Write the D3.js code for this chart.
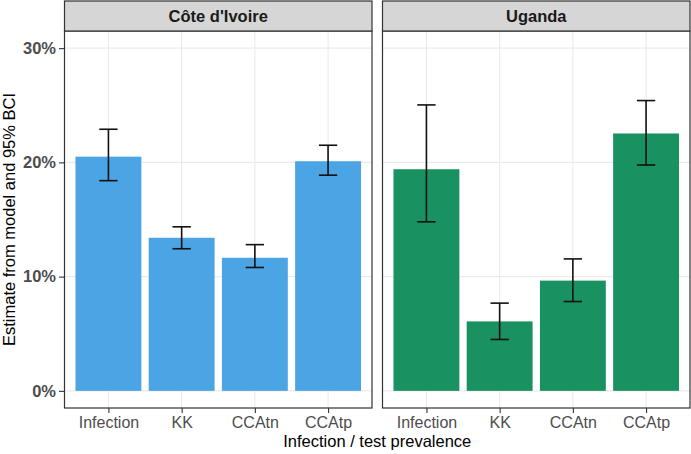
<!DOCTYPE html>
<html><head><meta charset="utf-8">
<script src="https://cdn.jsdelivr.net/npm/d3@7"></script>
<style>body{margin:0;background:#fff;} text{font-family:"Liberation Sans",Arial,sans-serif;}</style>
</head><body>
<svg id="c" width="691" height="454"></svg>
<script>
const categories = ["Infection","KK","CCAtn","CCAtp"];
const panels = ["Côte d'Ivoire","Uganda"];
const estCI = [0.205, 0.134, 0.1165, 0.201];
const lowCI = [0.184, 0.1244, 0.108, 0.1888];
const highCI = [0.229, 0.1436, 0.128, 0.215];
const estUG = [0.194, 0.0608, 0.0965, 0.2253];
const lowUG = [0.148, 0.045, 0.0782, 0.1977];
const highUG = [0.2503, 0.0768, 0.1155, 0.2541];
const yTicks = [0, 0.1, 0.2, 0.3];
const colors = ["#4BA4E3", "#1A9161"];

const data = [
  categories.map((c,i)=>({cat:c, est:estCI[i], lo:lowCI[i], hi:highCI[i]})),
  categories.map((c,i)=>({cat:c, est:estUG[i], lo:lowUG[i], hi:highUG[i]}))
];

const svg = d3.select("#c");
const plotTop = 31, plotBottom = 408, stripTop = 1;
const panelX = [[64.5, 372], [382.5, 690]];
const FONT = "Liberation Sans, Arial, sans-serif";

const y = d3.scaleLinear().domain([-0.015, 0.315]).range([plotBottom, plotTop]);

panels.forEach((p, pi) => {
  const [x0, x1] = panelX[pi];
  const g = svg.append("g");
  const step = (x1 - x0) / 4.2;
  const x = d3.scalePoint().domain(categories).range([x0 + 0.6*step, x1 - 0.6*step]);
  g.selectAll(".hg").data(yTicks).join("line")
    .attr("x1", x0).attr("x2", x1).attr("y1", d=>y(d)).attr("y2", d=>y(d))
    .attr("stroke", "#EBEBEB").attr("stroke-width", 1.1);
  g.selectAll(".vg").data(categories).join("line")
    .attr("x1", d=>x(d)).attr("x2", d=>x(d)).attr("y1", plotTop).attr("y2", plotBottom)
    .attr("stroke", "#EBEBEB").attr("stroke-width", 1.1);
  const bw = 0.9*step;
  g.selectAll(".bar").data(data[pi]).join("rect")
    .attr("x", d=>x(d.cat)-bw/2).attr("width", bw)
    .attr("y", d=>y(d.est)).attr("height", d=>y(0)-y(d.est))
    .attr("fill", colors[pi]);
  const cw = 0.25*step;
  const eb = g.selectAll(".eb").data(data[pi]).join("g").attr("stroke","#111").attr("stroke-width",1.6);
  eb.append("line").attr("x1",d=>x(d.cat)).attr("x2",d=>x(d.cat)).attr("y1",d=>y(d.lo)).attr("y2",d=>y(d.hi));
  eb.append("line").attr("x1",d=>x(d.cat)-cw/2).attr("x2",d=>x(d.cat)+cw/2).attr("y1",d=>y(d.lo)).attr("y2",d=>y(d.lo));
  eb.append("line").attr("x1",d=>x(d.cat)-cw/2).attr("x2",d=>x(d.cat)+cw/2).attr("y1",d=>y(d.hi)).attr("y2",d=>y(d.hi));
  g.append("rect").attr("x", x0).attr("y", plotTop).attr("width", x1-x0).attr("height", plotBottom-plotTop)
    .attr("fill","none").attr("stroke","#333").attr("stroke-width",1.2);
  g.append("rect").attr("x", x0).attr("y", stripTop).attr("width", x1-x0).attr("height", plotTop-stripTop)
    .attr("fill","#D6D6D6").attr("stroke","#333").attr("stroke-width",1.2);
  g.append("text").attr("x", (x0+x1)/2).attr("y", (stripTop+plotTop)/2).attr("dy","0.36em")
    .attr("text-anchor","middle").attr("font-size",16.5).attr("font-weight","bold").attr("fill","#1A1A1A").text(p);
  const xa = g.append("g").attr("transform", `translate(0,${plotBottom})`)
    .call(d3.axisBottom(x).tickSize(5).tickPadding(3.7));
  xa.select(".domain").remove();
  xa.selectAll("line").attr("stroke","#333").attr("stroke-width",1.1);
  xa.selectAll("text").attr("font-size",16).attr("fill","#4D4D4D").attr("font-family",FONT);
  if (pi === 0) {
    const ya = g.append("g").attr("transform", `translate(${x0},0)`)
      .call(d3.axisLeft(y).tickValues(yTicks).tickFormat(d=>Math.round(d*100)+"%").tickSize(5.5).tickPadding(3));
    ya.select(".domain").remove();
    ya.selectAll("line").attr("stroke","#333").attr("stroke-width",1.1);
    ya.selectAll("text").attr("font-size",16.5).attr("font-weight","bold").attr("fill","#4D4D4D").attr("font-family",FONT);
  }
});

svg.append("text").attr("x", (64.5+690)/2).attr("y", 446.5).attr("text-anchor","middle")
  .attr("font-size",16.5).attr("fill","#000").text("Infection / test prevalence");
svg.append("text").attr("transform", `translate(15,${(plotTop+plotBottom)/2}) rotate(-90)`).attr("text-anchor","middle")
  .attr("font-size",16.5).attr("fill","#000").text("Estimate from model and 95% BCI");
</script>
</body></html>
